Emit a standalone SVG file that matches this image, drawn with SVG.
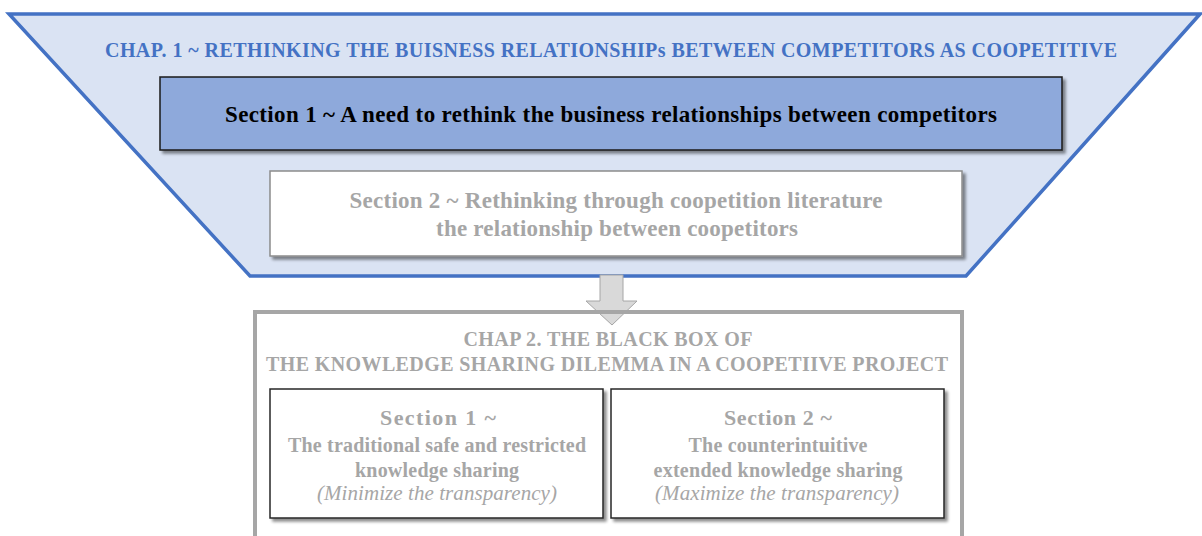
<svg xmlns="http://www.w3.org/2000/svg" width="1202" height="536" viewBox="0 0 1202 536">
<defs>
<filter id="sh" x="-5%" y="-10%" width="115%" height="130%">
<feGaussianBlur in="SourceAlpha" stdDeviation="1.5"/>
<feOffset dx="3" dy="3" result="b"/>
<feComponentTransfer><feFuncA type="linear" slope="0.45"/></feComponentTransfer>
<feMerge><feMergeNode/><feMergeNode in="SourceGraphic"/></feMerge>
</filter>
</defs>
<style>
text{font-family:"Liberation Serif","Times New Roman",serif;font-weight:bold;text-anchor:middle}
.blue{fill:#4472C4;font-size:20px}
.grey{fill:#A6A6A6}
.it{font-style:italic;font-weight:normal}
.box{fill:#fff;stroke:#262626;stroke-width:1.5;filter:url(#sh)}
</style>
<g id="chap1">
<polygon points="9,14 1200,14 966,276 250,276" fill="#DAE3F3" stroke="#4472C4" stroke-width="3.5"/>
<text class="blue" x="611" y="57" textLength="1012" lengthAdjust="spacing">CHAP. 1 ~  RETHINKING  THE  BUISNESS  RELATIONSHIPs  BETWEEN  COMPETITORS  AS  COOPETITIVE</text>
</g>
<g id="section1">
<rect x="160" y="77" width="902" height="73" fill="#8EA9DB" stroke="#1a1a1a" stroke-width="1.5" filter="url(#sh)"/>
<text x="611" y="122" font-size="23" fill="#000" textLength="772" lengthAdjust="spacing">Section 1 ~  A need to rethink the business relationships between competitors</text>
</g>
<g id="section2">
<rect x="270" y="171" width="692" height="85" fill="#fff" stroke="#8C8C8C" stroke-width="1.5" filter="url(#sh)"/>
<text class="grey" x="616" y="208" font-size="23" textLength="533" lengthAdjust="spacing">Section 2 ~ Rethinking through coopetition literature</text>
<text class="grey" x="617" y="236" font-size="23" textLength="362" lengthAdjust="spacing">the relationship between coopetitors</text>
</g>
<g id="connectors">
<polygon points="600,275 623,275 623,301 637,301 612,325 586,301 600,301" fill="#D9D9D9" stroke="#A6A6A6" stroke-width="1"/>
</g>
<g id="chap2">
<rect x="255" y="312" width="707" height="240" fill="none" stroke="#A6A6A6" stroke-width="4"/>
<text class="grey" x="608" y="346" font-size="20" textLength="289" lengthAdjust="spacing">CHAP 2. THE BLACK BOX OF</text>
<text class="grey" x="607" y="371" font-size="20" textLength="682" lengthAdjust="spacing">THE KNOWLEDGE SHARING DILEMMA IN A COOPETIIVE  PROJECT</text>
</g>
<g id="chap2-section1">
<rect class="box" x="270" y="389" width="333" height="129"/>
<text class="grey" x="438" y="425" font-size="22" textLength="116" lengthAdjust="spacing">Section  1 ~</text>
<text class="grey" x="437" y="452" font-size="20" textLength="298" lengthAdjust="spacing">The traditional safe and restricted</text>
<text class="grey" x="437" y="477" font-size="20" textLength="164" lengthAdjust="spacing">knowledge sharing</text>
<text class="grey it" x="437" y="500" font-size="21" textLength="240" lengthAdjust="spacing">(Minimize the transparency)</text>
</g>
<g id="chap2-section2">
<rect class="box" x="611" y="389" width="333" height="129"/>
<text class="grey" x="778" y="425" font-size="22" textLength="108" lengthAdjust="spacing">Section 2 ~</text>
<text class="grey" x="778" y="452" font-size="20" textLength="179" lengthAdjust="spacing">The counterintuitive</text>
<text class="grey" x="778" y="477" font-size="20" textLength="249" lengthAdjust="spacing">extended knowledge sharing</text>
<text class="grey it" x="777" y="500" font-size="21" textLength="244" lengthAdjust="spacing">(Maximize the transparency)</text>
</g>
</svg>
